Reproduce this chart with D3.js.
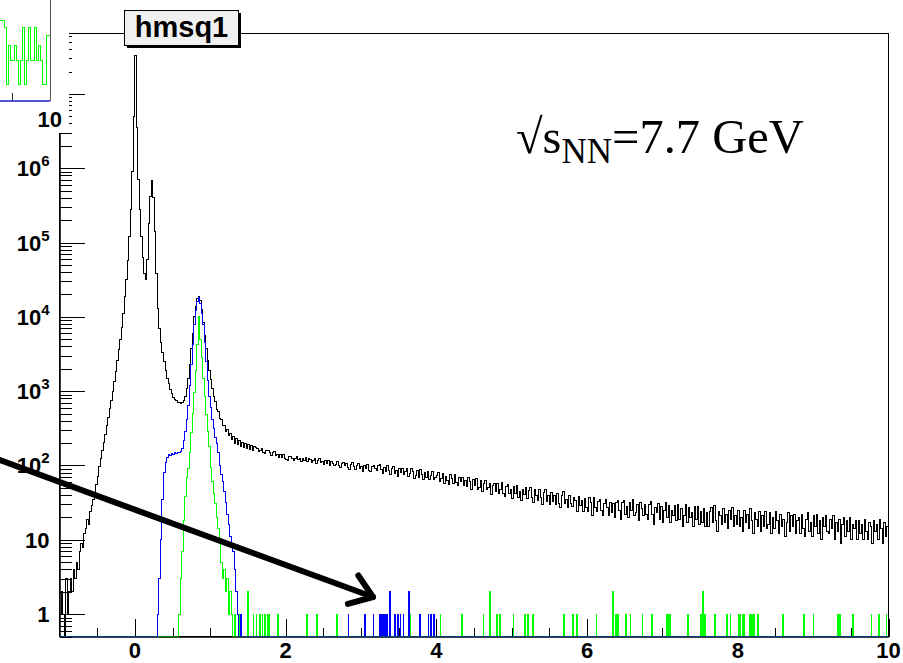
<!DOCTYPE html>
<html>
<head>
<meta charset="utf-8">
<script src="https://cdn.jsdelivr.net/npm/d3@7"></script>
<style>
  body { margin: 0; background: #fff; }
  svg { display: block; }
  .lbl { font-family: "Liberation Sans", Arial, Helvetica, sans-serif; font-weight: bold; }
</style>
</head>
<body>
<div id="chart"></div>
<script>
// ---- data ----
const xMajorTicks = [0, 2, 4, 6, 8, 10];
const yDecades = [0, 1, 2, 3, 4, 5, 6, 7];

// black histogram, bins of 0.02 from -1 to 1.6
const blackPeakStart = -1;
const blackPeakCounts = [
  1, 2, 1, 0, 3, 1, 2, 3, 2, 4,
  3, 5, 4, 7, 9, 8, 12, 14, 19, 16,
  24, 29, 35, 43, 56, 72, 97, 124, 160, 205,
  265, 340, 440, 580, 760, 1000, 1350, 1850, 2600, 3600,
  5000, 7200, 11000, 19000, 32000, 58000, 120000, 280000, 900000, 5000000,
  33000000, 3500000, 700000, 280000, 120000, 62000, 38000, 32000, 60000, 180000,
  420000, 680000, 400000, 140000, 38000, 13000, 7000, 4500, 3300, 2500,
  1900, 1500, 1250, 1050, 920, 830, 780, 740, 710, 700,
  690, 700, 740, 850, 1100, 1500, 2300, 3700, 6000, 10000,
  14000, 17500, 18800, 16500, 12500, 8500, 5600, 3700, 2600, 1900,
  1450, 1100, 860, 720, 570, 530, 430, 410, 345, 340,
  290, 305, 250, 270, 222, 248, 200, 228, 190, 214,
  180, 205, 172, 198, 168, 192, 163, 186, 160, 180
];
// black histogram tail, bins of 0.02 from 1.6 to 10
const blackTailStart = 1.6;
const blackTailCounts = [
  176, 168, 154, 158, 171, 151, 144, 159, 161, 148, 138, 148, 156, 137, 140, 128, 141, 130, 139, 123,
  122, 117, 131, 134, 124, 116, 126, 134, 119, 123, 113, 126, 117, 127, 113, 125, 120, 111, 115, 125,
  107, 117, 125, 109, 113, 102, 117, 106, 118, 101, 114, 108, 99, 103, 113, 99, 94, 107, 109, 100,
  108, 94, 89, 103, 109, 96, 88, 99, 108, 91, 96, 84, 101, 91, 102, 86, 82, 98, 101, 90,
  85, 99, 103, 87, 79, 94, 84, 101, 86, 76, 92, 96, 79, 86, 72, 90, 80, 92, 75, 84,
  92, 71, 79, 92, 82, 66, 73, 86, 69, 89, 75, 64, 80, 68, 84, 64, 74, 82, 64, 68,
  73, 81, 60, 66, 77, 57, 72, 62, 55, 75, 66, 57, 75, 59, 54, 68, 60, 70, 53, 62,
  52, 68, 60, 48, 64, 54, 67, 48, 51, 62, 45, 57, 62, 48, 51, 58, 41, 53, 58, 44,
  57, 42, 48, 59, 42, 38, 52, 55, 42, 48, 36, 52, 42, 54, 37, 45, 34, 48, 41, 51,
  36, 46, 51, 37, 32, 47, 40, 34, 48, 37, 30, 43, 47, 33, 39, 30, 43, 33, 39, 30,
  42, 31, 27, 39, 44, 31, 35, 27, 40, 31, 28, 37, 34, 24, 38, 29, 34, 24, 36, 27,
  24, 37, 32, 21, 37, 27, 24, 33, 35, 25, 21, 31, 35, 27, 21, 32, 23, 31, 20, 32,
  34, 25, 19, 32, 34, 22, 28, 20, 32, 25, 35, 21, 23, 30, 18, 32, 26, 21, 30, 22,
  19, 30, 33, 22, 16, 27, 23, 31, 19, 28, 17, 25, 32, 20, 29, 17, 25, 21, 29, 18,
  30, 19, 26, 15, 21, 30, 17, 27, 20, 23, 15, 28, 19, 28, 16, 24, 17, 26, 15, 23,
  15, 24, 27, 17, 29, 18, 13, 24, 21, 16, 26, 17, 22, 14, 25, 19, 27, 15, 21, 16,
  25, 15, 20, 13, 25, 17, 22, 14, 26, 18, 12, 23, 19, 15, 24, 13, 21, 15, 24, 14,
  16, 23, 12, 20, 14, 24, 18, 12, 22, 15, 19, 11, 17, 23, 13, 21, 15, 22, 12, 18,
  20, 12, 22, 14, 11, 19, 23, 13, 17, 11, 21, 15, 22, 12, 18, 10, 20, 15, 21, 13,
  12, 19, 14, 21, 10, 17, 13, 19, 9, 16, 20, 11, 18, 13, 20, 10, 16, 14, 18, 10,
  18, 12, 16, 10, 19, 13, 10, 17, 15, 9, 18, 13, 16, 10, 19, 14, 9, 17, 11, 15
];

// blue histogram, bins of 0.02 from 0.28
const blueStart = 0.28;
const blueCounts = [
  0, 1, 3, 10, 35, 80, 110, 130, 140, 135,
  145, 140, 148, 144, 150, 148, 152, 170, 220, 290,
  420, 650, 1200, 2300, 4200, 8000, 12000, 16000, 18500, 15000,
  11000, 7800, 4500, 2500, 1400, 850, 600, 420, 310, 240,
  200, 150, 100, 75, 60, 45, 32, 22, 16, 11,
  8, 7, 4, 2, 1
];
const blueSparseX = [1.40, 2.83, 3.05, 3.16, 3.25, 3.27, 3.30, 3.32, 3.34, 3.38, 3.45, 3.49, 3.52, 3.56, 3.63, 3.78, 3.89, 3.92, 3.96];
const blueSparseN = [1, 1, 1, 1, 1, 1, 1, 1, 1, 2, 1, 1, 1, 1, 2, 1, 1, 1, 1];

// green histogram, bins of 0.02 from 0.58
const greenStart = 0.58;
const greenCounts = [
  1, 3, 7, 18, 38, 70, 90, 150, 280, 500,
  950, 1900, 4200, 10200, 5000, 2800, 1500, 850, 480, 290,
  180, 95, 60, 42, 31, 20, 14, 10, 5, 3,
  4, 2, 3, 1, 2, 1, 0, 1
];
const greenSparseX = [
  1.39, 1.50, 1.57, 1.61, 1.66, 1.69, 1.72, 1.76, 1.78, 1.89,
  2.28, 2.41, 2.68, 3.65, 4.05, 4.34, 4.62, 4.71, 4.80, 4.84,
  5.02, 5.17, 5.21, 5.28, 5.69, 5.81, 5.86, 6.12, 6.34, 6.38,
  6.41, 6.51, 6.57, 6.73, 6.86, 7.05, 7.07, 7.10, 7.33, 7.51,
  7.53, 7.56, 7.69, 7.85, 7.90, 8.01, 8.03, 8.06, 8.08, 8.15,
  8.17, 8.19, 8.21, 8.26, 8.60, 8.87, 9.00, 9.32, 9.35, 9.52,
  9.77, 9.87, 9.97
];
const greenSparseN = [
  1, 2, 1, 1, 1, 1, 1, 1, 1, 1,
  1, 1, 1, 1, 1, 1, 1, 2, 1, 1,
  1, 1, 1, 1, 1, 1, 1, 1, 2, 1,
  1, 1, 1, 1, 1, 1, 1, 1, 1, 1,
  2, 1, 1, 1, 1, 1, 1, 1, 1, 1,
  1, 1, 1, 1, 1, 1, 1, 1, 1, 1,
  1, 1, 1
];

// the cut-off piece of another plot in the top-left corner
const insetGreenCounts = [6, 6, 5, 1, 3, 2, 2, 3, 2, 1, 2, 5, 1, 2, 5, 2, 2, 5, 2, 3, 2, 1, 1, 4, 4];

// arrow annotation, in data coordinates
const arrowFrom = [-1.79, 118];
const arrowTo = [3.16, 1.7];

// ---- layout ----
const width = 903, height = 663;
const frame = { left: 59.5, right: 888.5, top: 33.5, bottom: 636.5 };
const binW = 0.02;

const svg = d3.select("#chart").append("svg")
  .attr("width", width)
  .attr("height", height);

const x = d3.scaleLinear().domain([-1, 10]).range([frame.left, frame.right]);
const y = d3.scaleLog().domain([0.5, 6.5e7]).range([frame.bottom, frame.top]).clamp(true);

svg.append("clipPath").attr("id", "clip")
  .append("rect")
  .attr("x", frame.left).attr("y", frame.top)
  .attr("width", frame.right - frame.left).attr("height", frame.bottom - frame.top);

// frame
svg.append("rect")
  .attr("x", frame.left).attr("y", frame.top)
  .attr("width", frame.right - frame.left).attr("height", frame.bottom - frame.top)
  .attr("fill", "none").attr("stroke", "#000").attr("stroke-width", 1);

// y axis ticks (ticks point into the frame)
const yMinor = [];
[0.1].concat(yDecades.map(k => Math.pow(10, k))).forEach(m => {
  d3.range(2, 10).forEach(j => {
    const v = m * j;
    if (v >= 0.5 && v < 6.5e7) yMinor.push(v);
  });
});
const yAxisMajor = d3.axisLeft(y)
  .tickValues(yDecades.map(k => Math.pow(10, k)))
  .tickSize(-25).tickSizeOuter(0).tickFormat("");
const yAxisMinor = d3.axisLeft(y)
  .tickValues(yMinor)
  .tickSize(-12.5).tickSizeOuter(0).tickFormat("");
svg.append("g").attr("transform", `translate(${frame.left},0)`).call(yAxisMinor);
svg.append("g").attr("transform", `translate(${frame.left},0)`).call(yAxisMajor);

// x axis ticks
const xMinor = d3.range(-0.5, 10, 0.5).filter(v => !xMajorTicks.includes(v));
const xAxisMajor = d3.axisBottom(x).tickValues(xMajorTicks).tickSize(-18).tickSizeOuter(0).tickFormat("");
const xAxisMinor = d3.axisBottom(x).tickValues(xMinor).tickSize(-9).tickSizeOuter(0).tickFormat("");
svg.append("g").attr("transform", `translate(0,${frame.bottom})`).call(xAxisMinor);
svg.append("g").attr("transform", `translate(0,${frame.bottom})`).call(xAxisMajor);
svg.selectAll(".domain").attr("stroke", "#000");
svg.selectAll(".tick line").attr("stroke", "#000").attr("shape-rendering", "crispEdges");

// x labels
svg.append("g").selectAll("text")
  .data(xMajorTicks)
  .join("text")
  .attr("class", "lbl")
  .attr("x", d => x(d))
  .attr("y", 658)
  .attr("text-anchor", "middle")
  .attr("font-size", 22)
  .text(d => d);

// y labels: 1, 10, 10^k
const yl = svg.append("g").selectAll("text")
  .data(yDecades)
  .join("text")
  .attr("class", "lbl")
  .attr("x", 49.5)
  .attr("y", d => y(Math.pow(10, d)) + 8)
  .attr("text-anchor", "end")
  .attr("font-size", 22);
yl.each(function(k) {
  const t = d3.select(this);
  if (k === 0) { t.text("1"); return; }
  t.append("tspan").text("10");
  if (k > 1) t.append("tspan").attr("dy", -10).attr("font-size", 15).text(k);
});

// ---- histograms ----
function histPoints(dense, sparseX, sparseN) {
  const bins = [];
  dense.forEach(s => s.counts.forEach((c, i) =>
    bins.push({ x0: s.start + i * binW, x1: s.start + (i + 1) * binW, v: c })));
  if (sparseX) sparseX.forEach((xv, i) => bins.push({ x0: xv, x1: xv + 0.01, v: sparseN[i] }));
  bins.sort((a, b) => a.x0 - b.x0);
  const pts = [];
  let cur = -1;
  bins.forEach(b => {
    if (b.x0 > cur + 1e-6) pts.push([cur, 0], [b.x0, 0]);
    pts.push([b.x0, b.v], [b.x1, b.v]);
    cur = b.x1;
  });
  if (cur < 10) pts.push([cur, 0], [10, 0]);
  return pts;
}

const line = d3.line()
  .x(d => x(d[0]))
  .y(d => d[1] > 0 ? y(d[1]) : frame.bottom);

const hists = [
  { pts: histPoints([{ start: blackPeakStart, counts: blackPeakCounts }, { start: blackTailStart, counts: blackTailCounts }]), color: "#000" },
  { pts: histPoints([{ start: greenStart, counts: greenCounts }], greenSparseX, greenSparseN), color: "#00ff00" },
  { pts: histPoints([{ start: blueStart, counts: blueCounts }], blueSparseX, blueSparseN), color: "#0000ff" }
];

svg.append("g").attr("clip-path", "url(#clip)")
  .selectAll("path")
  .data(hists)
  .join("path")
  .attr("d", d => line(d.pts))
  .attr("fill", "none")
  .attr("stroke", d => d.color)
  .attr("stroke-width", 1)
  .attr("shape-rendering", "crispEdges");

// ---- title box ----
svg.append("rect").attr("x", 127).attr("y", 13).attr("width", 114).attr("height", 35).attr("fill", "#000");
svg.append("rect").attr("x", 124.5).attr("y", 10.5).attr("width", 114).attr("height", 35)
  .attr("fill", "#f0f0f0").attr("stroke", "#000").attr("stroke-width", 1);
svg.append("text").attr("class", "lbl")
  .attr("x", 181.5).attr("y", 37)
  .attr("text-anchor", "middle")
  .attr("font-size", 29)
  .text("hmsq1");

// ---- energy label ----
const en = svg.append("text")
  .attr("x", 516).attr("y", 153)
  .attr("font-family", "'Liberation Serif', 'Times New Roman', Times, serif")
  .attr("font-size", 48.5)
  .attr("fill", "#000");
en.append("tspan").text("\u221As");
en.append("tspan").attr("dy", 10).attr("font-size", 35).text("NN");
en.append("tspan").attr("dy", -10).text("=7.7 GeV");

// ---- arrow ----
const ax0 = x(arrowFrom[0]), ay0 = y(arrowFrom[1]);
const ax1 = x(arrowTo[0]), ay1 = y(arrowTo[1]);
svg.append("line")
  .attr("x1", ax0).attr("y1", ay0).attr("x2", ax1).attr("y2", ay1)
  .attr("stroke", "#000").attr("stroke-width", 6).attr("stroke-linecap", "round");
const ang = Math.atan2(ay1 - ay0, ax1 - ax0);
const wing = 26, spread = 0.62;
const head = [
  [ax1 - wing * Math.cos(ang - spread), ay1 - wing * Math.sin(ang - spread)],
  [ax1, ay1],
  [ax1 - wing * Math.cos(ang + spread), ay1 - wing * Math.sin(ang + spread)]
];
svg.append("path")
  .attr("d", d3.line()(head))
  .attr("fill", "none").attr("stroke", "#000").attr("stroke-width", 6)
  .attr("stroke-linecap", "round").attr("stroke-linejoin", "round");

// ---- top-left inset (piece of a neighbouring plot) ----
svg.append("rect").attr("x", 0).attr("y", 0).attr("width", 69).attr("height", 133).attr("fill", "#fff");
const ix = d3.scaleLinear().domain([0, insetGreenCounts.length]).range([0, 50]);
const iy = d3.scaleLog().domain([0.64, 10.6]).range([101, 0]);
const insetPts = [];
insetGreenCounts.forEach((c, i) => { insetPts.push([i, c], [i + 1, c]); });
svg.append("path")
  .attr("d", d3.line().x(d => ix(d[0])).y(d => iy(d[1]))(insetPts))
  .attr("fill", "none").attr("stroke", "#00ff00").attr("stroke-width", 1)
  .attr("shape-rendering", "crispEdges");
svg.append("line").attr("x1", 0).attr("x2", 50).attr("y1", 101).attr("y2", 101)
  .attr("stroke", "#1a1acc").attr("stroke-width", 1.5);
svg.append("line").attr("x1", 50.5).attr("x2", 50.5).attr("y1", 0).attr("y2", 101)
  .attr("stroke", "#555").attr("stroke-width", 1);
svg.append("line").attr("x1", 12.5).attr("x2", 12.5).attr("y1", 93).attr("y2", 101)
  .attr("stroke", "#333").attr("stroke-width", 1);
svg.append("text").attr("class", "lbl")
  .attr("x", 62).attr("y", 127)
  .attr("text-anchor", "end")
  .attr("font-size", 22)
  .text("10");
</script>
</body>
</html>
